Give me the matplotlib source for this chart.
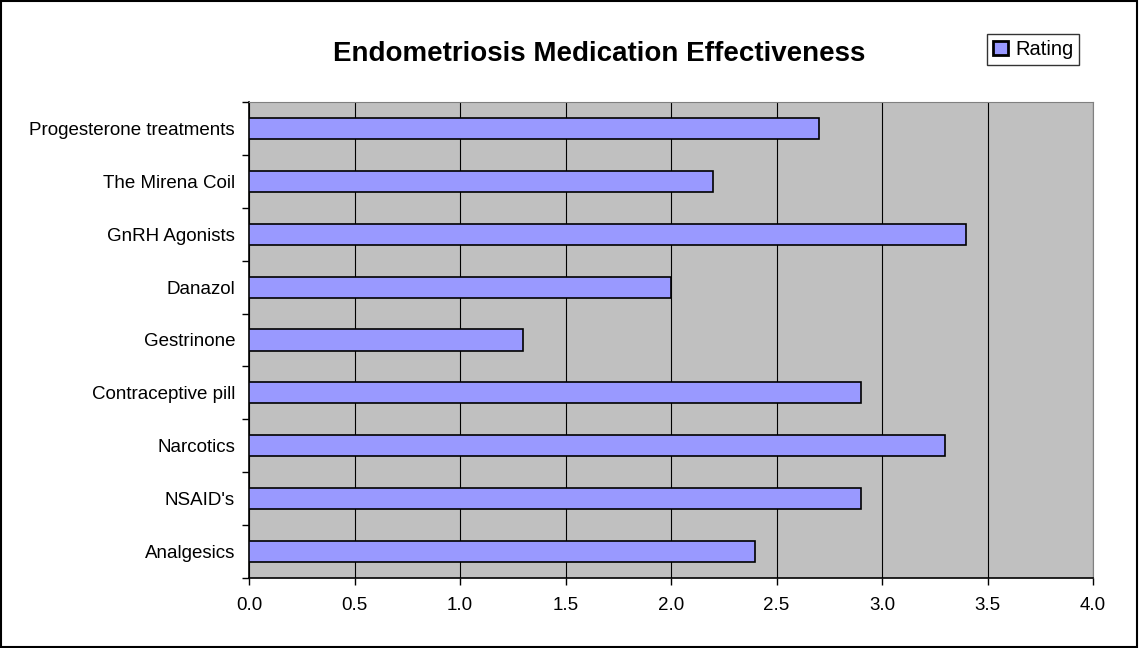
import matplotlib
matplotlib.use('Agg')
import matplotlib.pyplot as plt
from matplotlib.patches import Rectangle
import numpy as np

plt.rcParams['font.family'] = ['Liberation Sans', 'DejaVu Sans']

medications = ['Analgesics', "NSAID's", 'Narcotics', 'Contraceptive pill', 'Gestrinone',
               'Danazol', 'GnRH Agonists', 'The Mirena Coil', 'Progesterone treatments']
rating = [2.4, 2.9, 3.3, 2.9, 1.3, 2.0, 3.4, 2.2, 2.7]

fig = plt.figure(figsize=(11.39, 6.48), dpi=100)
ax = fig.add_axes([249 / 1139, 1 - 578 / 648, (1093 - 249) / 1139, (578 - 102) / 648])
ax.set_facecolor('#C0C0C0')

y = np.arange(len(medications))
ax.barh(y, rating, height=0.4, color='#9999FF', edgecolor='black', linewidth=1.2,
        label='Rating', zorder=3)

ax.set_xlim(0, 4)
ax.set_ylim(-0.5, len(medications) - 0.5)
ax.set_xticks(np.arange(0, 4.01, 0.5))
ax.set_xticklabels(['%.1f' % v for v in np.arange(0, 4.01, 0.5)])
ax.set_yticks(y)
ax.set_yticklabels(medications)
ax.set_yticks(np.arange(-0.5, len(medications), 1), minor=True)
ax.tick_params(axis='y', which='major', length=0, pad=10, labelsize=13.5)
ax.tick_params(axis='y', which='minor', length=5, width=1)
ax.tick_params(axis='x', length=5, width=1, pad=9, labelsize=13.5)
ax.grid(axis='x', color='black', linewidth=0.8, zorder=1)

for s in ['top', 'right']:
    ax.spines[s].set_color('#808080')
    ax.spines[s].set_linewidth(0.8)
for s in ['left', 'bottom']:
    ax.spines[s].set_color('black')
    ax.spines[s].set_linewidth(1.2)

fig.text(599 / 1139, 1 - 54 / 648, 'Endometriosis Medication Effectiveness',
         ha='center', va='center', fontsize=20, fontweight='bold')

leg = fig.legend(loc='upper left', bbox_to_anchor=(987 / 1139, 1 - 34 / 648),
                 fontsize=14.5, frameon=True, fancybox=False, edgecolor='black',
                 handlelength=0.75, handleheight=0.75, handletextpad=0.35,
                 borderpad=0.3, borderaxespad=0)
leg.get_frame().set_linewidth(1)
leg.legend_handles[0].set_linewidth(2)

fig.patches.append(Rectangle((0.001, 0.001), 0.997, 0.997, transform=fig.transFigure,
                             fill=False, edgecolor='black', linewidth=1.5))

fig.savefig('out.png', dpi=100)
